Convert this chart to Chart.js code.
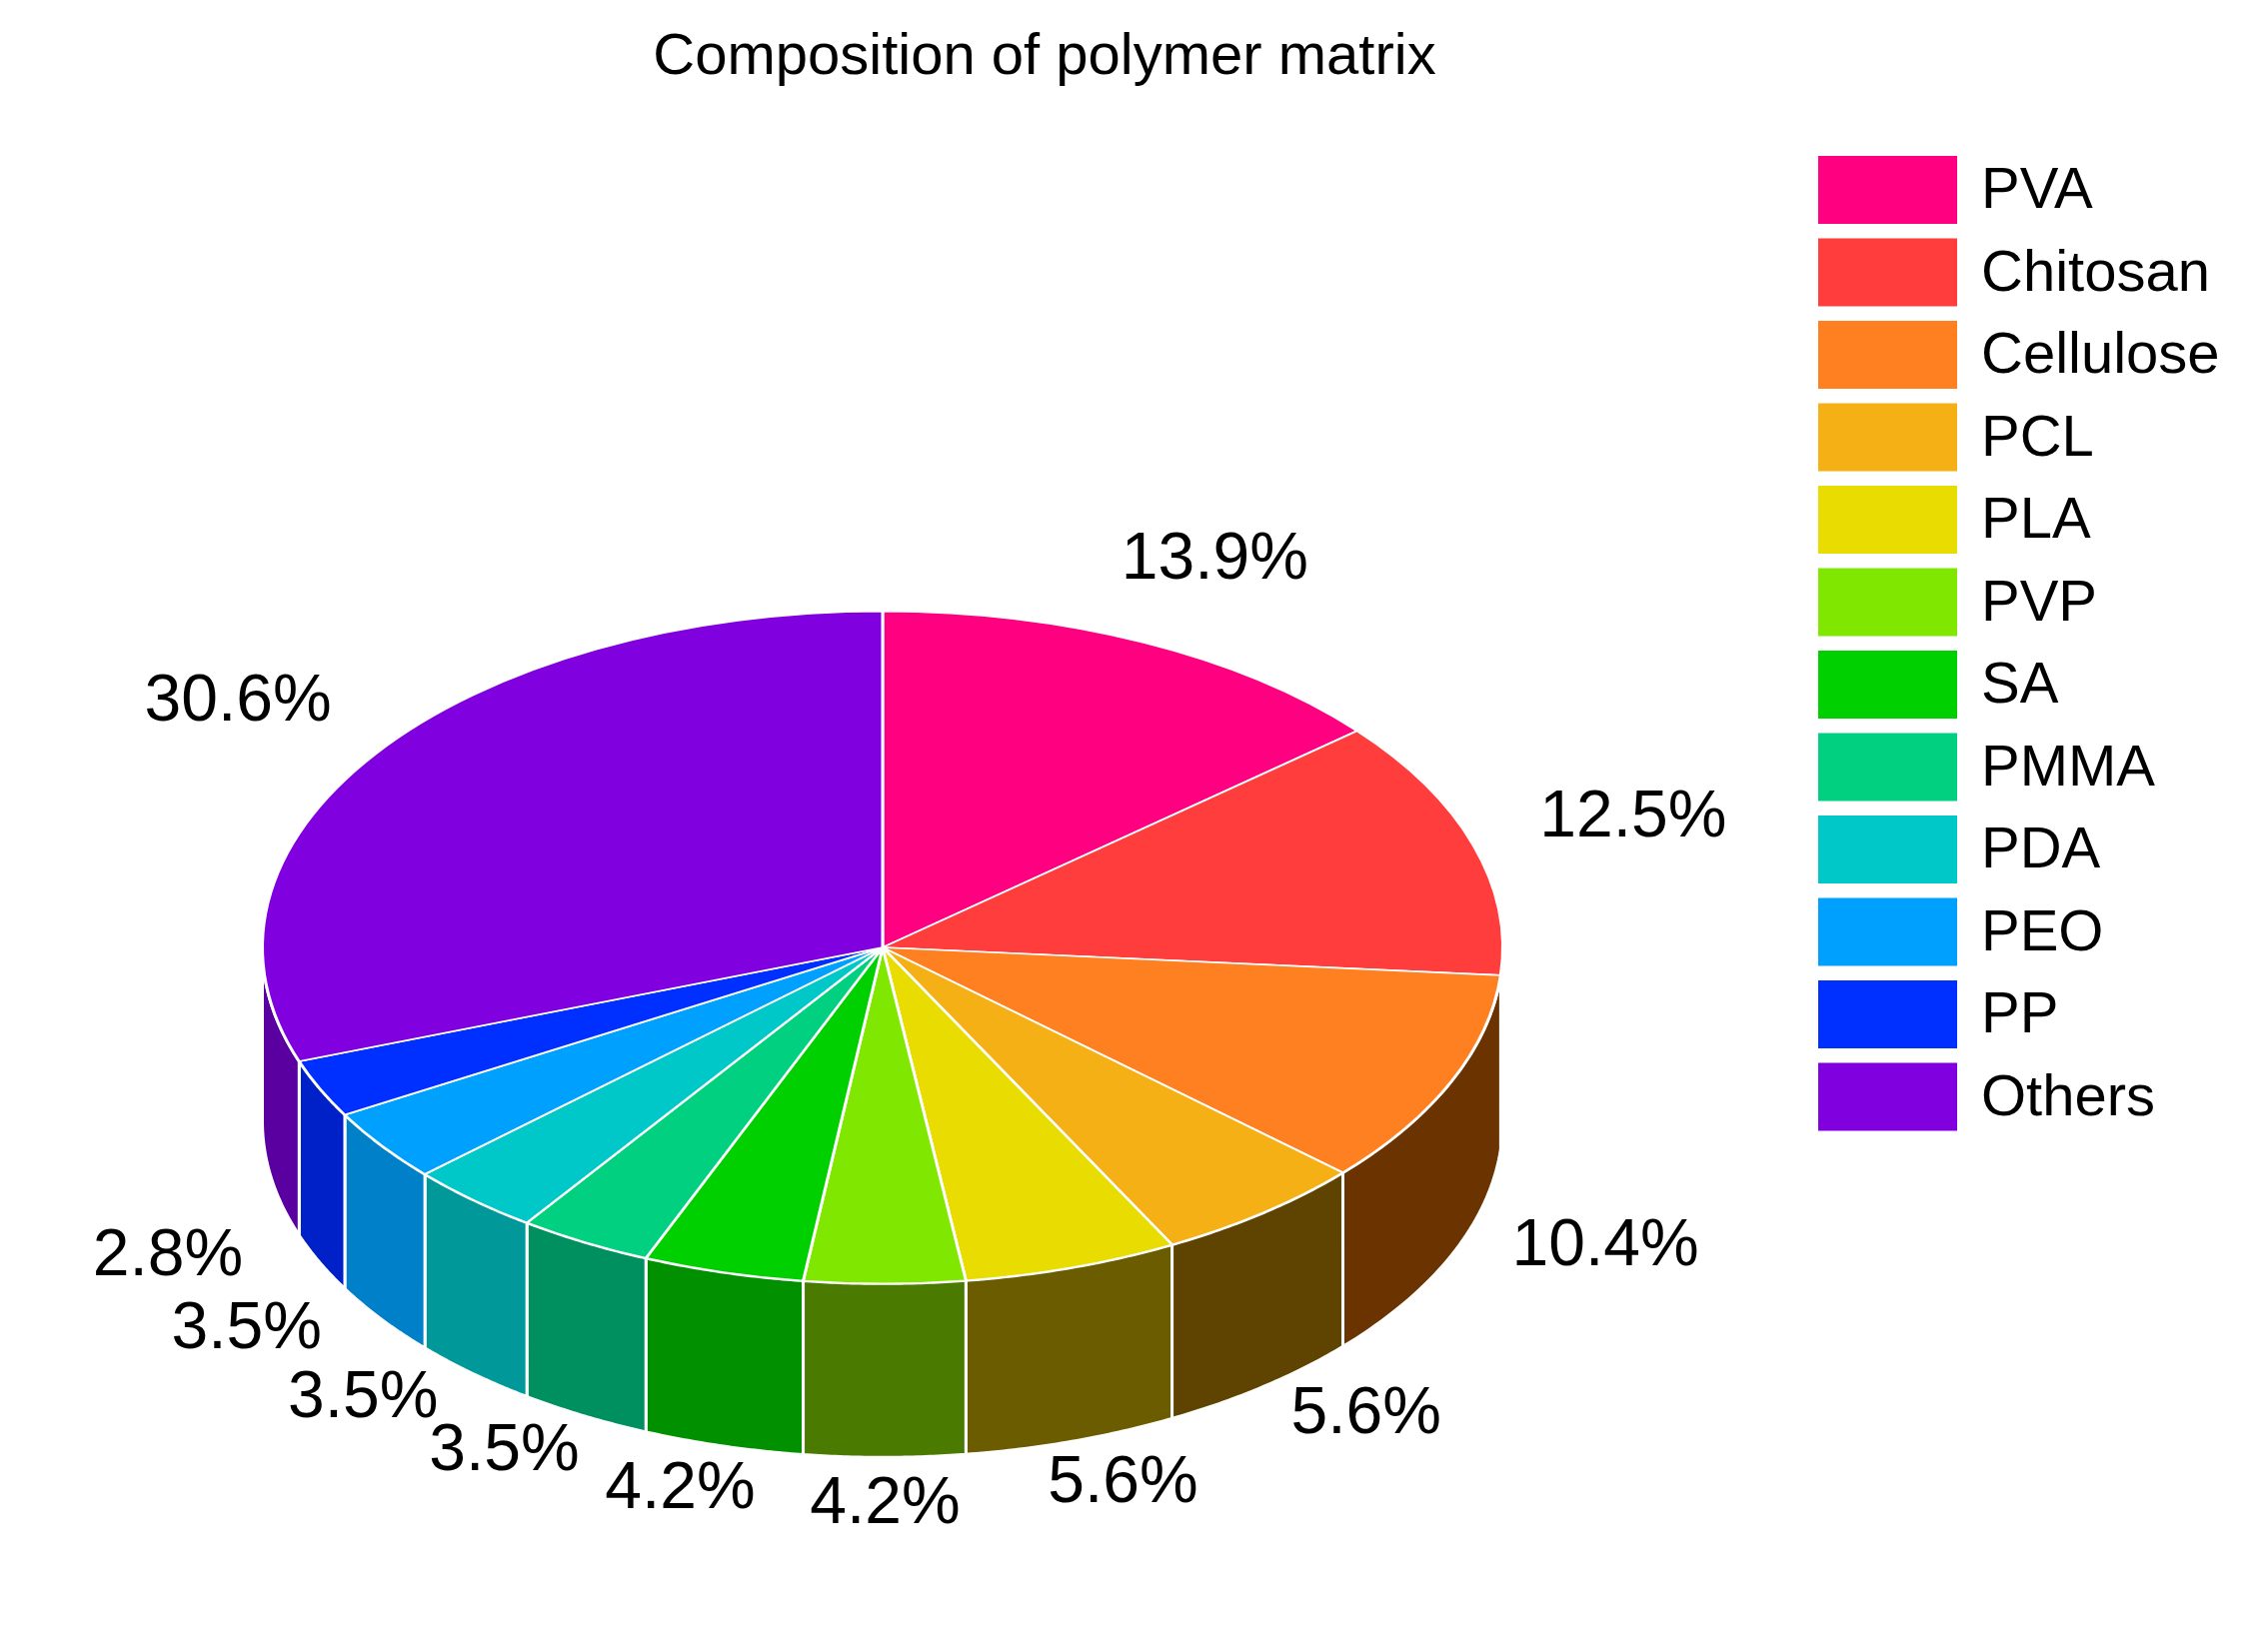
<!DOCTYPE html>
<html><head><meta charset="utf-8">
<script src="https://cdn.jsdelivr.net/npm/chart.js@4"></script>
<style>html,body{margin:0;padding:0;background:#fff}#wrap{width:2269px;height:1647px}</style>
</head><body><div id="wrap"><canvas id="c" width="2269" height="1647"></canvas></div>
<script>
const title = 'Composition of polymer matrix';
const categories = ['PVA','Chitosan','Cellulose','PCL','PLA','PVP','SA','PMMA','PDA','PEO','PP','Others'];
const values = [13.9,12.5,10.4,5.6,5.6,4.2,4.2,3.5,3.5,3.5,2.8,30.6];
const valueLabels = ['13.9%','12.5%','10.4%','5.6%','5.6%','4.2%','4.2%','3.5%','3.5%','3.5%','2.8%','30.6%'];
const topColors = ['#ff0080','#ff3d3d','#ff8020','#f5b015','#e8dc00','#80e800','#00d000','#00d080','#00c8c8','#00a0ff','#0030ff','#8000e0'];
const sideColors = ['#800040','#801e1e','#6b3300','#5e4400','#6b5c00','#4a7a00','#009000','#009060','#009898','#0080c8','#0020c8','#5a00a0'];

const K = 0.542, DEPTH = 174;
const FONT = '"Liberation Sans", Arial, sans-serif';

const pie3d = {
  id:'pie3d',
  beforeDatasetsDraw(chart){
    const ctx = chart.ctx, arcs = chart.getDatasetMeta(0).data;
    const cx = arcs[0].x, cy = arcs[0].y, r = arcs[0].outerRadius, ry = r*K;
    ctx.save();
    arcs.forEach((a,i)=>{
      let s = a.startAngle, e = a.endAngle;
      const norm = v => { v = v % (2*Math.PI); return v < 0 ? v + 2*Math.PI : v; };
      // handle wrap: test both segment and segment shifted
      [0, 2*Math.PI, -2*Math.PI].forEach(sh=>{
        const s1 = Math.max(s+sh, 0), e1 = Math.min(e+sh, Math.PI);
        if (e1 <= s1) return;
        ctx.beginPath();
        const N = 40;
        for (let k=0;k<=N;k++){ const t=s1+(e1-s1)*k/N; const x=cx+r*Math.cos(t), y=cy+ry*Math.sin(t); k?ctx.lineTo(x,y):ctx.moveTo(x,y);}
        for (let k=N;k>=0;k--){ const t=s1+(e1-s1)*k/N; ctx.lineTo(cx+r*Math.cos(t), cy+ry*Math.sin(t)+DEPTH);}
        ctx.closePath();
        const g = ctx.createLinearGradient(cx+r*Math.cos(s1),0,cx+r*Math.cos(e1),0);
        g.addColorStop(0, sideColors[i]); g.addColorStop(1, sideColors[i]);
        ctx.fillStyle = g; ctx.fill();
        ctx.strokeStyle = '#fff'; ctx.lineWidth = 3; ctx.stroke();
      });
    });
    ctx.restore();
    ctx.save();
    ctx.translate(cx,cy); ctx.scale(1,K); ctx.translate(-cx,-cy);
  },
  afterDatasetsDraw(chart){
    const ctx = chart.ctx; ctx.restore();
    const arcs = chart.getDatasetMeta(0).data;
    const cx = arcs[0].x, cy = arcs[0].y, r = arcs[0].outerRadius, ry = r*K;
    ctx.save();
    ctx.fillStyle = '#000';
    ctx.textAlign = 'center'; ctx.textBaseline = 'middle';
    ctx.font = '58px ' + FONT;
    ctx.fillText(title, 1045, 58);
    ctx.font = '66px ' + FONT;
    arcs.forEach((a,i)=>{
      const m = (a.startAngle + a.endAngle)/2;
      const sn = Math.sin(m), cs = Math.cos(m);
      const x = cx + r*1.27*cs, y = cy + ry*1.27*sn + (sn>0 ? DEPTH*0.75 : 0);
      ctx.fillText(valueLabels[i], x, y);
    });
    // legend
    ctx.textAlign = 'left'; ctx.font = '58px ' + FONT;
    categories.forEach((c,i)=>{
      const y = 156 + i*82.5;
      ctx.fillStyle = topColors[i]; ctx.fillRect(1819, y, 139, 68);
      ctx.fillStyle = '#000'; ctx.fillText(c, 1982, y+36);
    });
    ctx.restore();
  }
};

new Chart(document.getElementById('c'), {
  type:'pie',
  data:{ labels: categories, datasets:[{ data: values, backgroundColor: topColors, borderColor:'#fff', borderWidth:3, hoverOffset:0 }]},
  options:{
    responsive:false, animation:false, events:[],
    layout:{ padding:{ left:261, right:764, top:326, bottom:77 } },
    plugins:{ legend:{display:false}, tooltip:{enabled:false} }
  },
  plugins:[pie3d]
});
</script></body></html>
